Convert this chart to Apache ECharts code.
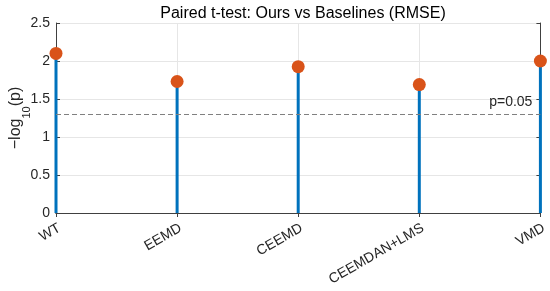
<!DOCTYPE html>
<html>
<head>
<meta charset="utf-8">
<script src="https://cdn.jsdelivr.net/npm/echarts@6/dist/echarts.min.js"></script>
<style>
  html, body { margin: 0; padding: 0; background: #fff; }
  #main { width: 550px; height: 291px; }
</style>
</head>
<body>
<div id="main"></div>
<script>
// 各基线方法
const methods = ['WT', 'EEMD', 'CEEMD', 'CEEMDAN+LMS', 'VMD']
// -log10(p) 值
const negLogP = [2.1, 1.73, 1.925, 1.69, 2.0]
// 显著性阈值 -log10(0.05)
const threshold = 1.301
const yTicks = [0, 0.5, 1, 1.5, 2, 2.5]

const font = 'Liberation Sans, Arial, Helvetica, sans-serif'
const axisColor = '#404040'
const textColor = '#262626'

const chart = echarts.init(document.getElementById('main'))

const option = {
  animation: false,
  title: {
    text: 'Paired t-test: Ours vs Baselines (RMSE)',
    left: 298,
    textAlign: 'center',
    top: 1,
    textStyle: { fontFamily: font, fontSize: 16, fontWeight: 'normal', color: '#000' },
  },
  grid: { left: 56, right: 9, top: 23, bottom: 78 },
  xAxis: [
    {
      type: 'category',
      data: methods,
      boundaryGap: false,
      axisLine: { lineStyle: { color: axisColor, width: 1 } },
      axisTick: { show: true, inside: true, length: 4, lineStyle: { color: axisColor } },
      axisLabel: {
        rotate: 30,
        margin: 8,
        verticalAlign: 'top',
        fontFamily: font,
        fontSize: 14,
        color: textColor,
      },
      splitLine: { show: true, lineStyle: { color: '#e6e6e6' } },
    },
    {
      type: 'category',
      data: methods,
      boundaryGap: false,
      position: 'top',
      axisLine: { show: true, lineStyle: { color: axisColor } },
      axisTick: { show: true, inside: true, length: 4, lineStyle: { color: axisColor } },
      axisLabel: { show: false },
      splitLine: { show: false },
    },
  ],
  yAxis: [
    {
      type: 'value',
      min: yTicks[0],
      max: yTicks[yTicks.length - 1],
      interval: 0.5,
      axisLine: { show: true, lineStyle: { color: axisColor } },
      axisTick: { show: true, inside: true, length: 4, lineStyle: { color: axisColor } },
      axisLabel: { margin: 6, fontFamily: font, fontSize: 14, color: textColor },
      splitLine: { show: true, lineStyle: { color: '#e6e6e6' } },
    },
    {
      type: 'value',
      position: 'right',
      min: yTicks[0],
      max: yTicks[yTicks.length - 1],
      interval: 0.5,
      axisLine: { show: true, lineStyle: { color: axisColor } },
      axisTick: { show: true, inside: true, length: 4, lineStyle: { color: axisColor } },
      axisLabel: { show: false },
      splitLine: { show: false },
    },
  ],
  graphic: [
    {
      type: 'text',
      x: 14,
      y: 118,
      rotation: Math.PI / 2,
      style: {
        text: '{a|−log}{b|10}{a|(p)}',
        align: 'center',
        verticalAlign: 'middle',
        fill: textColor,
        rich: {
          a: { fontFamily: font, fontSize: 16, fill: textColor, verticalAlign: 'bottom', lineHeight: 20 },
          b: { fontFamily: font, fontSize: 11, fill: textColor, verticalAlign: 'bottom', lineHeight: 20, padding: [0, 0, -8, 0] },
        },
      },
    },
  ],
  series: [
    {
      name: 'stem',
      type: 'bar',
      data: negLogP,
      barWidth: 3,
      clip: false,
      itemStyle: { color: '#0072BD' },
      z: 2,
      markLine: {
        silent: true,
        symbol: 'none',
        data: [{ yAxis: threshold }],
        lineStyle: { type: [5, 3], color: '#808080', width: 1 },
        label: {
          show: true,
          position: 'insideEndTop',
          formatter: 'p=0.05',
          distance: [8, 5],
          fontFamily: font,
          fontSize: 14,
          color: textColor,
        },
      },
    },
    {
      name: 'point',
      type: 'scatter',
      data: negLogP,
      symbol: 'circle',
      symbolSize: 13,
      clip: false,
      itemStyle: { color: '#D95319', opacity: 1 },
      z: 3,
    },
  ],
}

chart.setOption(option)
</script>
</body>
</html>
